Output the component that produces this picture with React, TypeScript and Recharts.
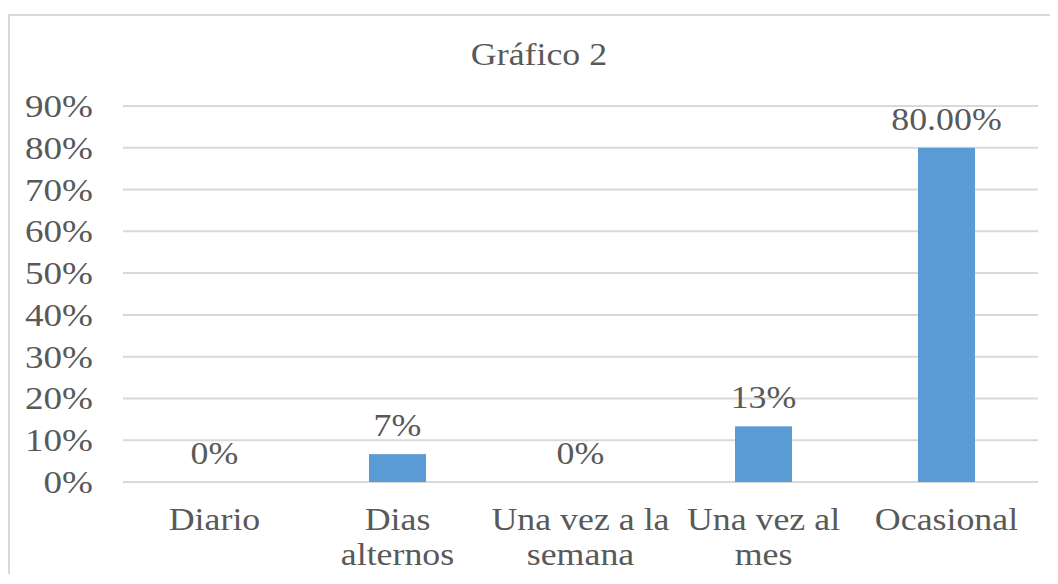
import React from 'react';
import { BarChart, Bar, XAxis, YAxis, CartesianGrid } from 'recharts';

const categories = ['Diario', 'Dias\nalternos', 'Una vez a la\nsemana', 'Una vez al\nmes', 'Ocasional'];
const values = [0, 6.67, 0, 13.33, 80];
const valueLabels = ['0%', '7%', '0%', '13%', '80.00%'];
const yTicks = [0, 10, 20, 30, 40, 50, 60, 70, 80, 90];

const FONT = "'Liberation Serif', 'Times New Roman', Times, 'DejaVu Serif', serif";
const TEXT = '#595959';
const BAR = '#5b9bd5';
const STRETCH = 1.12;

const data = categories.map((name, i) => ({ name, value: values[i], label: valueLabels[i] }));

// the original text is slightly wider than Times, so stretch it horizontally around x
const stretch = (x: number) => `translate(${x},0) scale(${STRETCH},1) translate(${-x},0)`;

const CategoryTick = (props: any) => {
  const { x, y, payload } = props;
  const lines = String(payload.value).split('\n');
  return (
    <text
      x={x}
      y={y}
      textAnchor="middle"
      fill={TEXT}
      fontFamily={FONT}
      fontSize={32}
      transform={stretch(x)}
    >
      {lines.map((line, i) => (
        <tspan key={i} x={x} dy={i === 0 ? 48 : 35}>
          {line}
        </tspan>
      ))}
    </text>
  );
};

const PercentTick = (props: any) => {
  const { x, y, payload } = props;
  return (
    <text
      x={x}
      y={y}
      dy={11}
      textAnchor="end"
      fill={TEXT}
      fontFamily={FONT}
      fontSize={32}
      transform={`translate(${x},0) scale(1.16,1) translate(${-x},0)`}
    >
      {`${payload.value}%`}
    </text>
  );
};

// bar with its value label drawn above, also for zero values
const LabeledBar = (props: any) => {
  const { x, y, width, height, payload } = props;
  const cx = x + width / 2;
  return (
    <g>
      {height > 0 && <rect x={x} y={y} width={width} height={height} fill={BAR} />}
      <text
        x={cx}
        y={y - 18}
        textAnchor="middle"
        fill={TEXT}
        fontFamily={FONT}
        fontSize={32}
        transform={stretch(cx)}
      >
        {payload.label}
      </text>
    </g>
  );
};

const App: React.FC = () => {
  return (
    <div
      style={{
        position: 'relative',
        top: 6,
        width: 1040,
        height: 564,
        borderLeft: '2px solid #d9d9d9',
        borderTop: '2px solid #d9d9d9',
        background: '#fff',
      }}
    >
      <div
        style={{
          position: 'absolute',
          left: 329,
          width: 400,
          top: 20,
          textAlign: 'center',
          fontFamily: FONT,
          fontSize: 32,
          color: TEXT,
          transform: `scaleX(${STRETCH})`,
        }}
      >
        Gráfico 2
      </div>
      <BarChart
        width={1040}
        height={564}
        data={data}
        margin={{ top: 90, right: 12, bottom: 0, left: 0 }}
        barSize={57}
        style={{ overflow: 'visible' }}
      >
        <CartesianGrid vertical={false} stroke="#d9d9d9" strokeWidth={2} />
        <XAxis
          dataKey="name"
          axisLine={false}
          tickLine={false}
          tickSize={0}
          tickMargin={0}
          height={98}
          interval={0}
          tick={<CategoryTick />}
        />
        <YAxis
          domain={[0, 90]}
          ticks={yTicks}
          interval={0}
          width={113}
          axisLine={false}
          tickLine={false}
          tickSize={0}
          tickMargin={30}
          tick={<PercentTick />}
        />
        <Bar dataKey="value" fill={BAR} isAnimationActive={false} shape={<LabeledBar />} />
      </BarChart>
    </div>
  );
};

export default App;
